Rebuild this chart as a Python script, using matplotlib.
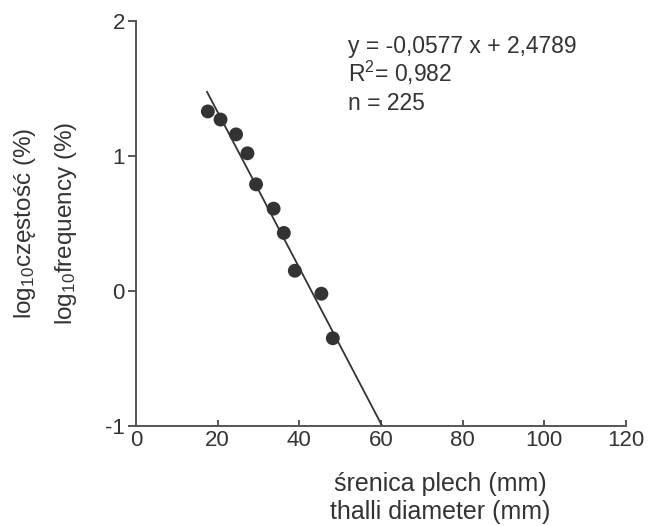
import matplotlib
matplotlib.use("Agg")
import matplotlib.pyplot as plt
import numpy as np

plt.rcParams['font.family'] = ['Liberation Sans', 'DejaVu Sans']
plt.rcParams['mathtext.fontset'] = 'custom'
plt.rcParams['mathtext.rm'] = 'Liberation Sans'
plt.rcParams['mathtext.it'] = 'Liberation Sans'

diameter = [17.6, 20.7, 24.5, 27.3, 29.4, 33.7, 36.2, 38.9, 45.4, 48.2]
log_freq = [1.33, 1.27, 1.16, 1.02, 0.79, 0.61, 0.43, 0.15, -0.02, -0.35]
slope = -0.0577
intercept = 2.4789
line_x = [17.4, 60.3]
x_ticks = [0, 20, 40, 60, 80, 100, 120]
y_ticks = [-1, 0, 1, 2]

tc = '#333333'
sc = '#555555'
W, H = 650, 526

fig = plt.figure(figsize=(6.5, 5.26), dpi=100)
ax = fig.add_axes([136 / W, 1 - 426 / H, 490 / W, 405 / H])

lx = np.array(line_x)
ax.plot(lx, slope * lx + intercept, color='#333333', lw=1.3, zorder=2)
ax.scatter(diameter, log_freq, s=100, color='#333333', zorder=3, edgecolors='none')

ax.set_xlim(0, 120)
ax.set_ylim(-1, 2)
ax.set_xticks(x_ticks)
ax.set_yticks(y_ticks)
ax.set_yticklabels([str(v) for v in y_ticks])
for s in ['top', 'right']:
    ax.spines[s].set_visible(False)
for s in ['left', 'bottom']:
    ax.spines[s].set_color(sc)
    ax.spines[s].set_linewidth(1.4)
ax.tick_params(axis='x', direction='in', length=4, width=1.4, color=sc,
               labelsize=16, labelcolor=tc, pad=3)
ax.tick_params(axis='y', direction='out', length=6, width=1.4, color=sc,
               labelsize=16, labelcolor=tc, pad=2)

# x label (two lines)
fig.text(440 / W, 1 - 484 / H, 'śrenica plech (mm)', ha='center', va='center',
         fontsize=18, color=tc)
fig.text(440 / W, 1 - 512 / H, 'thalli diameter (mm)', ha='center', va='center',
         fontsize=18, color=tc)

# y label (two lines)
fig.text(25 / W, 1 - 223 / H, 'log$_{\\mathregular{10}}$częstość (%)', ha='center', va='center',
         rotation=90, fontsize=17.5, color=tc)
fig.text(66 / W, 1 - 223 / H, 'log$_{\\mathregular{10}}$frequency (%)', ha='center', va='center',
         rotation=90, fontsize=17.5, color=tc)

# regression annotation
fig.text(348 / W, 1 - 53 / H, 'y = -0,0577 x + 2,4789', ha='left', va='baseline',
         fontsize=16.5, color=tc)
fig.text(348 / W, 1 - 82 / H, 'R$^{\\mathregular{2}}$= 0,982', ha='left', va='baseline',
         fontsize=16.5, color=tc)
fig.text(348 / W, 1 - 110 / H, 'n = 225', ha='left', va='baseline',
         fontsize=16.5, color=tc)

fig.savefig('out.png', dpi=100)
